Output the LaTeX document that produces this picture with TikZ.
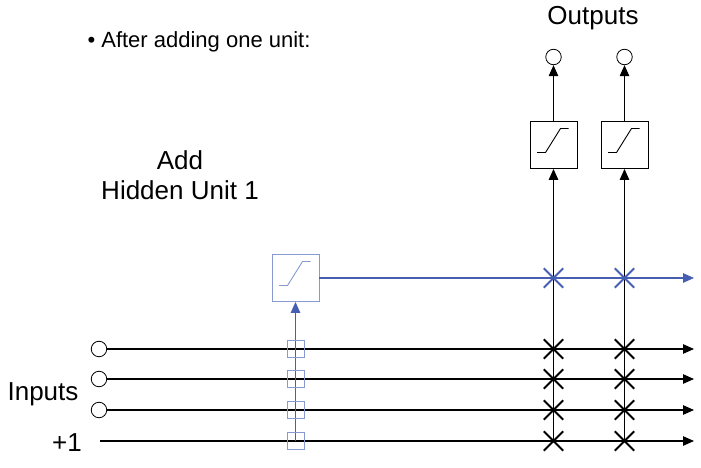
\documentclass[tikz,border=0pt]{standalone}
\usepackage{fontspec}
\setmainfont{Liberation Sans}
\usetikzlibrary{arrows.meta, shapes.misc}

\definecolor{unitblue}{RGB}{70,95,178}
\definecolor{paleblue}{RGB}{135,155,210}

\begin{document}
\begin{tikzpicture}[x=1pt, y=-1pt]
    \tikzstyle{unit} = [draw, rectangle, minimum size=47pt, inner sep=0pt, line width=0.9pt,
        path picture={\draw[line width=0.9pt] ([xshift=7pt,yshift=-7.5pt]path picture bounding box.west)
            -- ++(8.5pt,0) -- ++(15pt,24pt) -- ++(8pt,0);}]
    \tikzstyle{port} = [draw, circle, minimum size=15.5pt, inner sep=0pt, line width=0.8pt, fill=white]
    \tikzstyle{weight} = [draw, cross out, minimum size=17.5pt, inner sep=0pt, line width=1.8pt]
    \tikzstyle{frozen} = [draw=paleblue, rectangle, minimum size=17pt, inner sep=0pt, line width=0.9pt]
    \tikzstyle{line} = [draw, line width=1.1pt, -{Triangle[length=11pt,width=9.5pt]}]
    \tikzstyle{label} = [font=\fontsize{26}{30}\selectfont, align=center]
    \useasboundingbox (0,0) rectangle (701,468);

    % inputs and bias
    \node [port] (in1) at (99,349) {};
    \node [port] (in2) at (99,379) {};
    \node [port] (in3) at (99,410) {};
    \coordinate (bias) at (100,441);
    \foreach \n/\y in {1/349, 2/379, 3/410, 4/441}
        \coordinate (end\n) at (694,\y);
    \node [label] (inputs) at (43,394) {Inputs};
    \node [label] (plus) at (67,443) {+1};

    % output units
    \node [unit] (out1) at (553.5,145) {};
    \node [unit] (out2) at (624.5,145) {};
    \node [port] (o1) at (553.5,57) {};
    \node [port] (o2) at (624.5,57) {};
    \coordinate (foot1) at (553.5,441);
    \coordinate (foot2) at (624.5,441);
    \node [label] (outputs) at (593,18) {Outputs};

    % hidden unit
    \node [unit, draw=paleblue, path picture={\draw[paleblue, line width=0.9pt]
        ([xshift=7pt,yshift=-7.5pt]path picture bounding box.west) -- ++(8.5pt,0) -- ++(15pt,24pt) -- ++(8pt,0);}]
        (hid) at (295.5,278) {};
    \coordinate (hidfoot) at (295.5,441);
    \coordinate (hidend) at (694,278);
    \node [label] (addtxt) at (180,175) {Add\\Hidden Unit 1};
    \node [font=\fontsize{22}{26}\selectfont, anchor=west] (title) at (84,42) {\textbullet\ After adding one unit:};

    % connections
    \draw [line] (in1) -- (end1);
    \draw [line] (in2) -- (end2);
    \draw [line] (in3) -- (end3);
    \draw [line] (bias) -- (end4);
    \draw [line] (foot1) -- (out1.south);
    \draw [line] (foot2) -- (out2.south);
    \draw [line] (out1.north) -- (o1.south);
    \draw [line] (out2.north) -- (o2.south);
    \draw [line, unitblue] (hidfoot) -- (hid.south);
    \draw [line, unitblue] (hid.east) -- (hidend);

    % frozen input weights to the hidden unit
    \foreach \n/\y in {1/349, 2/379, 3/410, 4/441}
        \node [frozen] (sq\n) at (295.5,\y) {};

    % trainable output weights
    \foreach \x/\c in {553.5/a, 624.5/b} {
        \node [weight, unitblue] (w\c0) at (\x,278) {};
        \foreach \n/\y in {1/349, 2/379, 3/410, 4/441}
            \node [weight] (w\c\n) at (\x,\y) {};
    }
\end{tikzpicture}
\end{document}
